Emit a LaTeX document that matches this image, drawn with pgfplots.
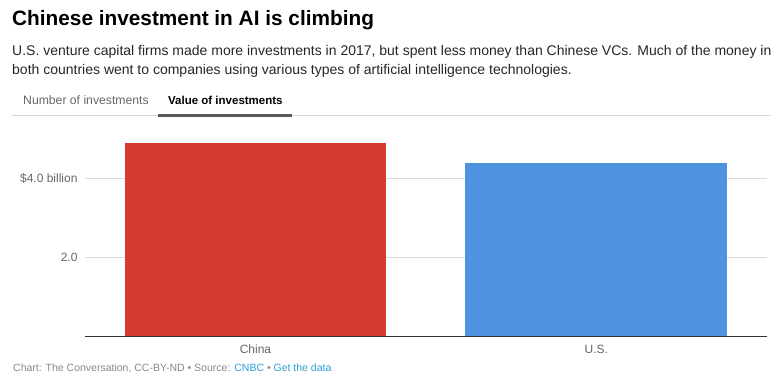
\documentclass[border=0pt]{standalone}
\usepackage{fontspec}
\setmainfont{Liberation Sans}
\usepackage{pgfplots}
\pgfplotsset{compat=1.18}
\definecolor{cred}{HTML}{D63A31}
\definecolor{cblue}{HTML}{4F92DF}
\definecolor{tgray}{HTML}{666666}
\definecolor{fgray}{HTML}{888888}
\definecolor{link}{HTML}{2A9FD6}
\definecolor{gridc}{HTML}{D9D9D9}
\begin{document}
\begin{tikzpicture}[x=1pt,y=1pt]
\path[use as bounding box] (0pt,0pt) rectangle (783pt,387pt);
% title
\node[anchor=base west,inner sep=0,font=\fontsize{20.8}{24}\selectfont\bfseries] at (12pt,361pt) {Chinese investment in AI is climbing};
\node[anchor=base west,inner sep=0,font=\fontsize{14}{19}\selectfont,text=black!85] at (12pt,331pt) {U.S. venture capital firms made more investments in 2017, but spent less money than Chinese VCs. Much of the money in};
\node[anchor=base west,inner sep=0,font=\fontsize{14}{19}\selectfont,text=black!85] at (12pt,312pt) {both countries went to companies using various types of artificial intelligence technologies.};
% tabs
\node[anchor=base west,inner sep=0,font=\fontsize{12.2}{14}\selectfont,text=tgray] at (23pt,282pt) {Number of investments};
\node[anchor=base west,inner sep=0,font=\fontsize{11.5}{14}\selectfont\bfseries] at (168pt,282pt) {Value of investments};
\fill[gridc] (12pt,270.5pt) rectangle (771pt,271.5pt);
\fill[black!65] (158pt,270pt) rectangle (292pt,273pt);
% footer
\node[anchor=base west,inner sep=0,font=\fontsize{10.5}{13}\selectfont,text=fgray] at (13pt,15pt) {Chart: The Conversation, CC-BY-ND {\textbullet} Source: \textcolor{link}{CNBC} {\textbullet} \textcolor{link}{Get the data}};
\begin{axis}[
  at={(85pt,50.5pt)}, anchor=south west,
  scale only axis, width=681.7pt, height=206.9pt,
  xmin=-0.5, xmax=1.5, ymin=0, ymax=5.25,
  axis line style={draw=none},
  ybar, bar width=0.768, bar shift=0pt,
  ytick={2,4}, yticklabels={2.0,\$4.0 billion},
  xtick={0,1}, xticklabels={China,U.S.},
  xtick pos=bottom, ytick pos=left,
  ymajorgrids=true, xmajorgrids=false,
  y grid style={color=gridc, line width=0.8pt},
  tick label style={font=\fontsize{12}{14}\selectfont, text=tgray},
  yticklabel style={xshift=-4pt},
  xticklabel style={yshift=-5pt},
  major tick length=0pt,
  xtick style={draw=none}, ytick style={draw=none},
  /pgf/number format/assume math mode=true,
  clip=false,
]
\addplot[fill=cred, draw=none] coordinates {(0,4.91)};
\addplot[fill=cblue, draw=none] coordinates {(1,4.40)};
\draw[black!80, line width=1pt] (axis cs:-0.5,0) -- (axis cs:1.5,0);
\end{axis}
\end{tikzpicture}
\end{document}
